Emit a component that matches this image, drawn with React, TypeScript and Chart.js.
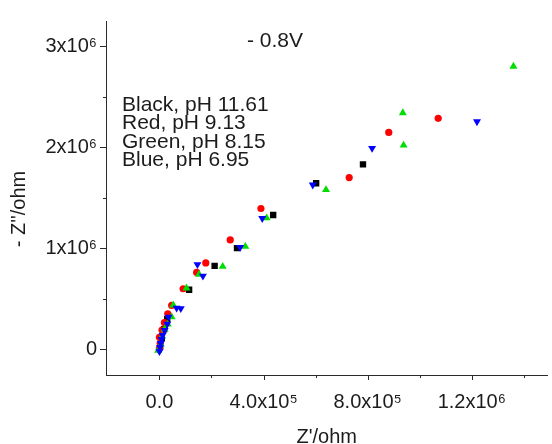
import React, { useEffect, useRef } from 'react';
import { Chart, registerables } from 'chart.js';

Chart.register(...registerables);

// Z' (x) and -Z'' (y) values, ohm
const blackX = [3000, 9000, 18000, 30000, 114000, 212000, 298000, 437000, 602000, 782000];
const blackY = [30000, 110000, 200000, 300000, 590000, 827000, 1002000, 1330000, 1644000, 1830000];

const redX = [0, 3000, 0, 10000, 19000, 32000, 47000, 91000, 143000, 178000, 272000, 390000, 729000, 881000, 1071000];
const redY = [10000, 60000, 120000, 192000, 266000, 353000, 435000, 600000, 762000, 856000, 1083000, 1394000, 1700000, 2147000, 2286000];

const greenX = [-5000, 5000, 10000, 20000, 32000, 47000, 53000, 104000, 152000, 243000, 330000, 412000, 640000, 935000, 938000, 1360000];
const greenY = [-10000, 50000, 130000, 200000, 250000, 321000, 438000, 606000, 742000, 820000, 1018000, 1300000, 1579000, 2340000, 2020000, 2800000];

const blueX = [0, 2000, 5000, 8000, 12000, 20000, 30000, 35000, 66000, 82000, 167000, 146000, 310000, 395000, 589000, 817000, 1220000];
const blueY = [-20000, 20000, 60000, 100000, 140000, 190000, 250000, 320000, 410000, 405000, 727000, 840000, 1010000, 1297000, 1628000, 1990000, 2254000];

const xTickValues = [0, 400000, 800000, 1200000];
const xTickLabels = ['0.0', '4.0x10\u2075', '8.0x10\u2075', '1.2x10\u2076'];
const xMinorTicks = [200000, 600000, 1000000, 1400000];

const yTickValues = [0, 1000000, 2000000, 3000000];
const yTickLabels = ['0', '1x10\u2076', '2x10\u2076', '3x10\u2076'];
const yMinorTicks = [500000, 1500000, 2500000];

const legendLines = ['Black, pH 11.61', 'Red, pH 9.13', 'Green, pH 8.15', 'Blue, pH 6.95'];
const potentialLabel = '- 0.8V';
const xTitle = "Z'/ohm";
const yTitle = "- Z''/ohm";

const FONT = '"Liberation Sans", Arial, sans-serif';
const TEXT = '#1c1c1c';
const AXIS = '#2a2a2a';

const toPoints = (xs: number[], ys: number[]) => xs.map((x, i) => ({ x, y: ys[i] }));

export default function App() {
  const ref = useRef<HTMLCanvasElement | null>(null);

  useEffect(() => {
    if (!ref.current) return;

    const decor = {
      id: 'decor',
      afterDraw(chart: any) {
        const ctx = chart.ctx;
        const xs = chart.scales.x;
        const ys = chart.scales.y;
        const area = chart.chartArea;
        ctx.save();
        ctx.strokeStyle = AXIS;
        ctx.lineWidth = 1;
        ctx.beginPath();
        xTickValues.forEach((v) => {
          const px = Math.round(xs.getPixelForValue(v)) + 0.5;
          ctx.moveTo(px, area.bottom);
          ctx.lineTo(px, area.bottom + 5);
        });
        xMinorTicks.forEach((v) => {
          const px = Math.round(xs.getPixelForValue(v)) + 0.5;
          ctx.moveTo(px, area.bottom);
          ctx.lineTo(px, area.bottom + 3);
        });
        yTickValues.forEach((v) => {
          const py = Math.round(ys.getPixelForValue(v)) + 0.5;
          ctx.moveTo(area.left, py);
          ctx.lineTo(area.left - 6, py);
        });
        yMinorTicks.forEach((v) => {
          const py = Math.round(ys.getPixelForValue(v)) + 0.5;
          ctx.moveTo(area.left, py);
          ctx.lineTo(area.left - 3, py);
        });
        ctx.stroke();

        ctx.fillStyle = TEXT;
        ctx.font = `21px ${FONT}`;
        ctx.textAlign = 'left';
        ctx.textBaseline = 'alphabetic';
        ctx.fillText(potentialLabel, 247, 47);
        legendLines.forEach((t, i) => {
          ctx.fillText(t, 122, 111 + i * 18.3);
        });

        ctx.font = `20px ${FONT}`;
        ctx.textAlign = 'center';
        ctx.fillText(xTitle, (area.left + area.right) / 2, 443);

        ctx.save();
        ctx.translate(25, 209);
        ctx.rotate(-Math.PI / 2);
        ctx.textBaseline = 'alphabetic';
        ctx.fillText(yTitle, 0, 0);
        ctx.restore();
        ctx.restore();
      },
    };

    const chart = new Chart(ref.current, {
      type: 'scatter',
      data: {
        datasets: [
          {
            label: 'Black',
            data: toPoints(blackX, blackY),
            pointStyle: 'rect',
            pointRadius: 4.5,
            backgroundColor: '#000000',
            borderColor: '#000000',
            borderWidth: 0,
            order: 3,
          },
          {
            label: 'Red',
            data: toPoints(redX, redY),
            pointStyle: 'circle',
            pointRadius: 3.6,
            backgroundColor: '#ff0000',
            borderColor: '#ff0000',
            borderWidth: 0,
            order: 2,
          },
          {
            label: 'Green',
            data: toPoints(greenX, greenY),
            pointStyle: 'triangle',
            pointRadius: 4.6,
            backgroundColor: '#00dd00',
            borderColor: '#00dd00',
            borderWidth: 0,
            order: 1,
          },
          {
            label: 'Blue',
            data: toPoints(blueX, blueY),
            pointStyle: 'triangle',
            rotation: 180,
            pointRadius: 4.6,
            backgroundColor: '#0000ff',
            borderColor: '#0000ff',
            borderWidth: 0,
            order: 0,
          },
        ],
      },
      options: {
        animation: false,
        responsive: false,
        devicePixelRatio: 1,
        layout: { padding: { top: 15, left: 0, right: 0, bottom: 0 } },
        plugins: {
          legend: { display: false },
          tooltip: { enabled: false },
        },
        scales: {
          x: {
            type: 'linear',
            min: -205300,
            max: 1490500,
            afterBuildTicks: (s: any) => {
              s.ticks = xTickValues.map((v) => ({ value: v }));
            },
            afterFit: (s: any) => {
              s.height = 69;
            },
            ticks: {
              autoSkip: false,
              maxRotation: 0,
              padding: 15,
              color: TEXT,
              font: { family: FONT, size: 20 },
              callback: (v: any) => xTickLabels[xTickValues.indexOf(Number(v))] ?? '',
            },
            grid: { display: true, drawOnChartArea: false, drawTicks: false },
            border: { display: true, color: AXIS, width: 1 },
          },
          y: {
            type: 'linear',
            min: -253000,
            max: 3249000,
            afterBuildTicks: (s: any) => {
              s.ticks = yTickValues.map((v) => ({ value: v }));
            },
            afterFit: (s: any) => {
              s.width = 106;
            },
            ticks: {
              autoSkip: false,
              padding: 9,
              color: TEXT,
              font: { family: FONT, size: 20 },
              callback: (v: any) => yTickLabels[yTickValues.indexOf(Number(v))] ?? '',
            },
            grid: { display: true, drawOnChartArea: false, drawTicks: false },
            border: { display: true, color: AXIS, width: 1 },
          },
        },
      },
      plugins: [decor],
    });

    return () => chart.destroy();
  }, []);

  return (
    <div style={{ position: 'absolute', left: 0, top: 0, width: 552, height: 444, background: '#fff' }}>
      <canvas ref={ref} width={552} height={444} />
    </div>
  );
}
